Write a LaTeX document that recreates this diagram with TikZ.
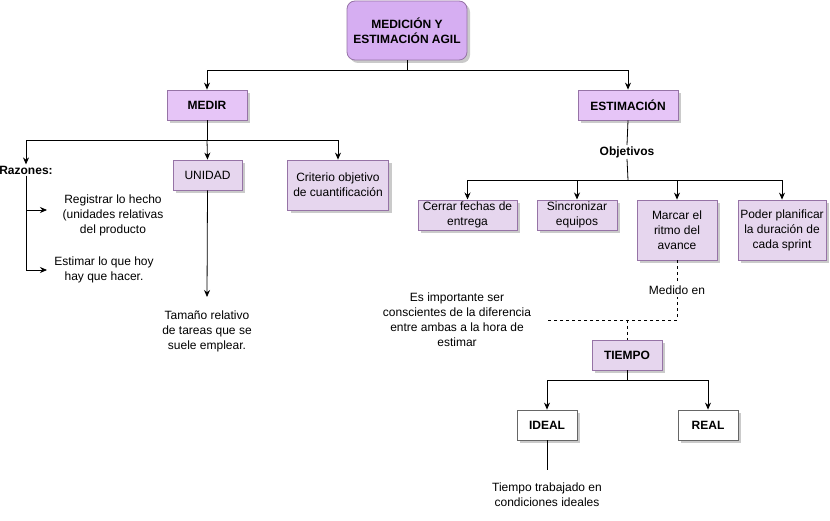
\documentclass[tikz,border=0pt]{standalone}
\usepackage{fontspec}
\setmainfont{Liberation Sans}
\usepackage{tikz}
\usetikzlibrary{arrows.meta,shadows}
\definecolor{topfill}{HTML}{D6AEF2}
\definecolor{midfill}{HTML}{E6C5F7}
\definecolor{lightfill}{HTML}{E6D6EE}
\definecolor{purpleedge}{HTML}{9673A6}
\definecolor{grayedge}{HTML}{666666}

\tikzset{
  basefont/.style={font=\fontsize{12}{15}\selectfont},
  boldfont/.style={font=\fontsize{12}{15}\selectfont\bfseries},
  boxshadow/.style={drop shadow={shadow xshift=3pt,shadow yshift=-3pt,fill=black!35,opacity=0.6}},
  topbox/.style={draw=purpleedge,fill=topfill,rounded corners=8pt,boxshadow,
    minimum width=120pt,minimum height=59pt,align=center,boldfont},
  mainbox/.style={draw=purpleedge,fill=midfill,boxshadow,minimum height=30pt,boldfont},
  subbox/.style={draw=purpleedge,fill=lightfill,boxshadow,minimum height=30pt,align=center,inner sep=2pt},
  plainbox/.style={draw=grayedge,fill=white,boxshadow,minimum width=60pt,minimum height=30pt,boldfont},
  note/.style={align=center,inner sep=1pt},
  arr/.style={-{Stealth[length=7pt,width=6pt]}},
  dashline/.style={dash pattern=on 3pt off 3pt}
}

\begin{document}
\begin{tikzpicture}[x=1pt,y=-1pt,line width=0.8pt,
  every node/.style={basefont}]
  \useasboundingbox (0,0) rectangle (830,521);

  % cajas principales
  \node[topbox] (raiz) at (407,30.5) {MEDICIÓN Y\\ESTIMACIÓN AGIL};
  \node[mainbox,minimum width=80pt] (medir) at (207,105) {MEDIR};
  \node[mainbox,minimum width=100pt] (estim) at (628,105) {ESTIMACIÓN};

  \coordinate (j0) at (407,70);
  \draw (raiz.south) -- (j0);
  \draw[arr] (j0) -| (medir.north);
  \draw[arr] (j0) -| (estim.north);

  % rama medir
  \node[note,boldfont] (razones) at (26,170) {Razones:};
  \node[subbox,minimum width=69pt] (unidad) at (207.5,175) {UNIDAD};
  \node[subbox,minimum width=101pt,minimum height=50pt] (criterio) at (338,185) {Criterio objetivo\\de cuantificación};

  \coordinate (j1) at (207,140);
  \draw (medir.south) -- (j1);
  \draw[arr] (j1) -| (razones.north);
  \draw[arr] (j1) -- (unidad.north);
  \draw[arr] (j1) -| (criterio.north);

  \node[note] (registrar) at (113,215) {Registrar lo hecho\\(unidades relativas\\del producto};
  \node[note] (estimar) at (104,270) {Estimar lo que hoy\\hay que hacer.};
  \coordinate (r1) at (47,210);
  \coordinate (r2) at (47,270);
  \draw[arr] (razones.south) |- (r1);
  \draw[arr] (razones.south) |- (r2);

  \node[note] (tamano) at (207,331) {Tamaño relativo\\de tareas que se\\suele emplear.};
  \coordinate (t1) at (207,297);
  \draw[arr] (unidad.south) -- (t1);

  % rama estimacion
  \node[note,boldfont] (objetivos) at (627,152) {Objetivos};
  \draw (estim.south) -- (objetivos.north);

  \node[subbox,minimum width=99pt] (cerrar) at (467.5,215) {Cerrar fechas de\\entrega};
  \node[subbox,minimum width=80pt] (sincro) at (577,215) {Sincronizar\\equipos};
  \node[subbox,minimum width=80pt,minimum height=60pt] (marcar) at (677,230) {Marcar el\\ritmo del\\avance};
  \node[subbox,minimum width=88pt,minimum height=60pt] (poder) at (782,230) {Poder planificar\\la duración de\\cada sprint};

  \coordinate (j2) at (628,180);
  \draw (objetivos.south) -- (j2);
  \draw[arr] (j2) -| (cerrar.north);
  \draw[arr] (j2) -| (sincro.north);
  \draw[arr] (j2) -| (marcar.north);
  \draw[arr] (j2) -| (poder.north);

  % tiempo
  \node[mainbox,fill=lightfill,minimum width=70pt] (tiempo) at (627,355) {TIEMPO};
  \node[note] (nota) at (457,320) {Es importante ser\\conscientes de la diferencia\\entre ambas a la hora de\\estimar};

  \coordinate (d1) at (677,320);
  \coordinate (d2) at (547,320);
  \coordinate (d3) at (627,320);
  \draw[dashline] (marcar.south) -- node[fill=white,inner sep=2pt] {Medido en} (d1);
  \draw[dashline] (d1) -- (d2);
  \draw[dashline] (d3) -- (tiempo.north);

  \node[plainbox] (ideal) at (547,425) {IDEAL};
  \node[plainbox] (real) at (708,425) {REAL};
  \coordinate (j3) at (627,380);
  \draw (tiempo.south) -- (j3);
  \draw[arr] (j3) -| (ideal.north);
  \draw[arr] (j3) -| (real.north);

  \node[note] (condiciones) at (547,495) {Tiempo trabajado en\\condiciones ideales};
  \coordinate (i1) at (547,470);
  \draw (ideal.south) -- (i1);
\end{tikzpicture}
\end{document}
